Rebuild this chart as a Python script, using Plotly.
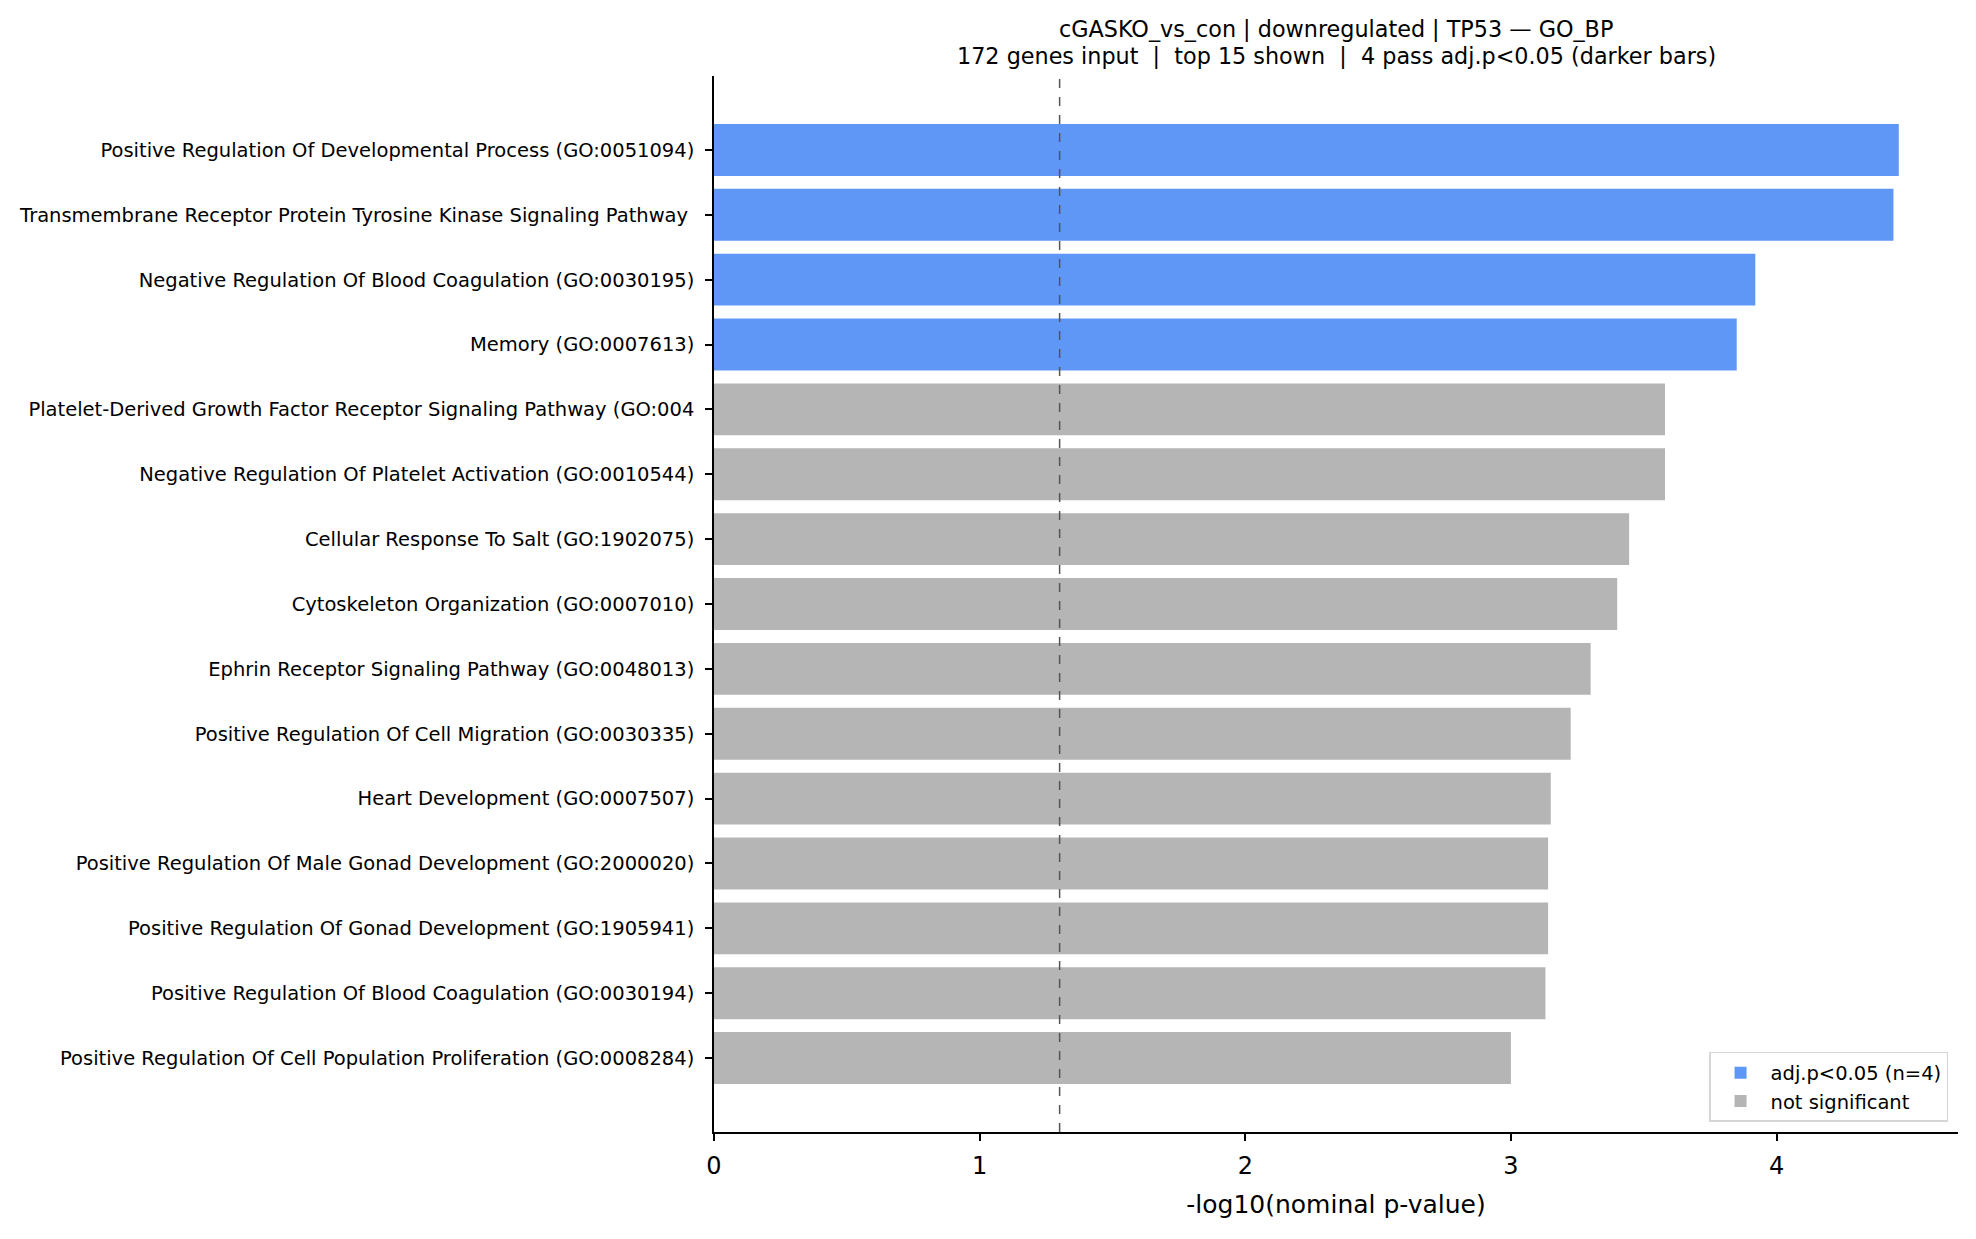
import numpy as np
import plotly.graph_objects as go

terms = [
    "Positive Regulation Of Developmental Process (GO:0051094)",
    "Transmembrane Receptor Protein Tyrosine Kinase Signaling Pathway\u00a0",
    "Negative Regulation Of Blood Coagulation (GO:0030195)",
    "Memory (GO:0007613)",
    "Platelet-Derived Growth Factor Receptor Signaling Pathway (GO:004",
    "Negative Regulation Of Platelet Activation (GO:0010544)",
    "Cellular Response To Salt (GO:1902075)",
    "Cytoskeleton Organization (GO:0007010)",
    "Ephrin Receptor Signaling Pathway (GO:0048013)",
    "Positive Regulation Of Cell Migration (GO:0030335)",
    "Heart Development (GO:0007507)",
    "Positive Regulation Of Male Gonad Development (GO:2000020)",
    "Positive Regulation Of Gonad Development (GO:1905941)",
    "Positive Regulation Of Blood Coagulation (GO:0030194)",
    "Positive Regulation Of Cell Population Proliferation (GO:0008284)",
]
neglog_p = [4.46, 4.44, 3.92, 3.85, 3.58, 3.58, 3.445, 3.40, 3.30, 3.225,
            3.15, 3.14, 3.14, 3.13, 3.00]
significant = [True, True, True, True, False, False, False, False, False,
               False, False, False, False, False, False]

title_line1 = "cGASKO_vs_con | downregulated | TP53 — GO_BP"
title_line2 = ("172 genes input \u00a0|\u00a0 top 15 shown \u00a0|\u00a0 "
               "4 pass adj.p<0.05 (darker bars)")

threshold = -np.log10(0.05)
n_sig = sum(significant)

SIG_COLOR = "#5e97f6"
NS_COLOR = "#b5b5b5"
FONT = "DejaVu Sans"

sig_terms = [t for t, s in zip(terms, significant) if s]
sig_vals = [v for v, s in zip(neglog_p, significant) if s]
ns_terms = [t for t, s in zip(terms, significant) if not s]
ns_vals = [v for v, s in zip(neglog_p, significant) if not s]

fig = go.Figure()
fig.add_trace(go.Bar(
    y=sig_terms, x=sig_vals, orientation="h", width=0.8,
    marker=dict(color=SIG_COLOR, line=dict(width=0)),
    name=f"adj.p<0.05 (n={n_sig})",
))
fig.add_trace(go.Bar(
    y=ns_terms, x=ns_vals, orientation="h", width=0.8,
    marker=dict(color=NS_COLOR, line=dict(width=0)),
    name="not significant",
))

fig.add_shape(type="line", xref="x", yref="paper", x0=threshold, x1=threshold,
              y0=0, y1=1, line=dict(color="#555555", width=1.5, dash="dash"),
              layer="above")

fig.add_annotation(text=title_line1, xref="paper", yref="paper", x=0.5, y=1,
                   xanchor="center", yanchor="middle", yshift=47, showarrow=False,
                   font=dict(family=FONT, size=22.3, color="black"))
fig.add_annotation(text=title_line2, xref="paper", yref="paper", x=0.5, y=1,
                   xanchor="center", yanchor="middle", yshift=20, showarrow=False,
                   font=dict(family=FONT, size=22.3, color="black"))

n = len(terms)
fig.update_layout(
    width=1976, height=1239,
    margin=dict(l=706, r=26, t=68, b=115),
    paper_bgcolor="white", plot_bgcolor="white",
    barmode="overlay",
    font=dict(family=FONT, color="black"),
    xaxis=dict(
        range=[0, max(neglog_p) * 1.05],
        tickvals=[0, 1, 2, 3, 4],
        ticks="outside", ticklen=7, tickwidth=1.6, tickcolor="black",
        showline=True, linecolor="black", linewidth=1.6,
        showgrid=False, zeroline=False,
        ticklabelstandoff=4,
        tickfont=dict(family=FONT, size=24, color="black"),
        title=dict(text="-log10(nominal p-value)", standoff=17,
                   font=dict(family=FONT, size=25, color="black")),
    ),
    yaxis=dict(
        type="category",
        categoryorder="array", categoryarray=terms,
        range=[n - 1 + 1.14, -1.14],
        ticks="outside", ticklen=7, tickwidth=1.6, tickcolor="black",
        showline=True, linecolor="black", linewidth=1.6,
        showgrid=False, zeroline=False,
        ticklabelstandoff=7,
        tickfont=dict(family=FONT, size=19.5, color="black"),
    ),
    legend=dict(
        x=0.992, y=0.0095, xanchor="right", yanchor="bottom",
        bgcolor="rgba(255,255,255,0.85)", bordercolor="#d6d6d6", borderwidth=1.5,
        font=dict(family=FONT, size=19.5, color="black"),
        itemwidth=50, tracegroupgap=0,
        traceorder="normal",
    ),
    showlegend=True,
)

fig.write_html("out.html")
